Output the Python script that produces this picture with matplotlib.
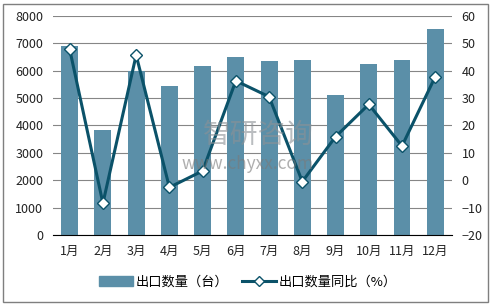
import matplotlib.pyplot as plt
from matplotlib.lines import Line2D
from matplotlib.patches import Patch, Rectangle

plt.rcParams['font.family'] = ['Noto Sans CJK SC', 'DejaVu Sans']

months = ['1月', '2月', '3月', '4月', '5月', '6月', '7月', '8月', '9月', '10月', '11月', '12月']
export_qty = [6900, 3830, 6000, 5450, 6180, 6500, 6350, 6390, 5110, 6240, 6390, 7520]  # 台
yoy = [47.8, -8.4, 45.7, -2.6, 3.4, 36.3, 30.5, -0.5, 15.9, 27.7, 12.5, 37.8]  # %

bar_color = '#5b8fa8'
line_color = '#0b5269'

fig = plt.figure(figsize=(4.96, 3.06), dpi=100)
ax = fig.add_axes([0.107, 0.232, 0.804, 0.716])
x = range(len(months))
ax.bar(x, export_qty, width=0.51, color=bar_color, zorder=2)
ax.set_ylim(0, 8000)
ax.set_yticks(range(0, 8001, 1000))
ax.set_xlim(-0.5, 11.5)
ax.set_xticks(list(x))
ax.set_xticklabels(months)
ax.grid(axis='y', color='#868686', linewidth=0.8, zorder=0)
for s in ['top', 'left', 'right']:
    ax.spines[s].set_visible(False)
ax.spines['bottom'].set_color('#000000')
ax.tick_params(axis='both', length=0, labelsize=9, colors='#222222')
ax.tick_params(axis='y', pad=7)
ax.tick_params(axis='x', pad=7)

ax2 = ax.twinx()
ax2.plot(x, yoy, color=line_color, linewidth=2.2, marker='D', markersize=6.5,
         markerfacecolor='white', markeredgecolor=line_color, markeredgewidth=1, zorder=3)
ax2.set_ylim(-20, 60)
ax2.set_yticks(range(-20, 61, 10))
for s in ['top', 'left', 'right', 'bottom']:
    ax2.spines[s].set_visible(False)
ax2.tick_params(axis='y', length=0, labelsize=9, colors='#222222', pad=7)

# watermark
fig.text(0.41, 0.56, '智研咨询', fontsize=20, color='#8c9196', alpha=0.6, ha='left', va='center')
fig.text(0.5, 0.464, 'www.chyxx.com', fontsize=12.5, color='#7a7a7a', alpha=0.6, ha='center', va='center')

handles = [Patch(color=bar_color),
           Line2D([0], [0], color=line_color, linewidth=2.2, marker='D', markersize=5,
                  markerfacecolor='white', markeredgecolor=line_color)]
fig.legend(handles, ['出口数量（台）', '出口数量同比（%）'], loc='center', bbox_to_anchor=(0.5, 0.078),
           ncol=2, frameon=False, fontsize=9.5, handlelength=2.6, columnspacing=1.0, handletextpad=0.2)

fig.add_artist(Rectangle((3 / 496, 4 / 306), 485 / 496, 298 / 306, transform=fig.transFigure,
                         fill=False, edgecolor='#7f7f7f', linewidth=1))

plt.savefig('out.png', dpi=100)
